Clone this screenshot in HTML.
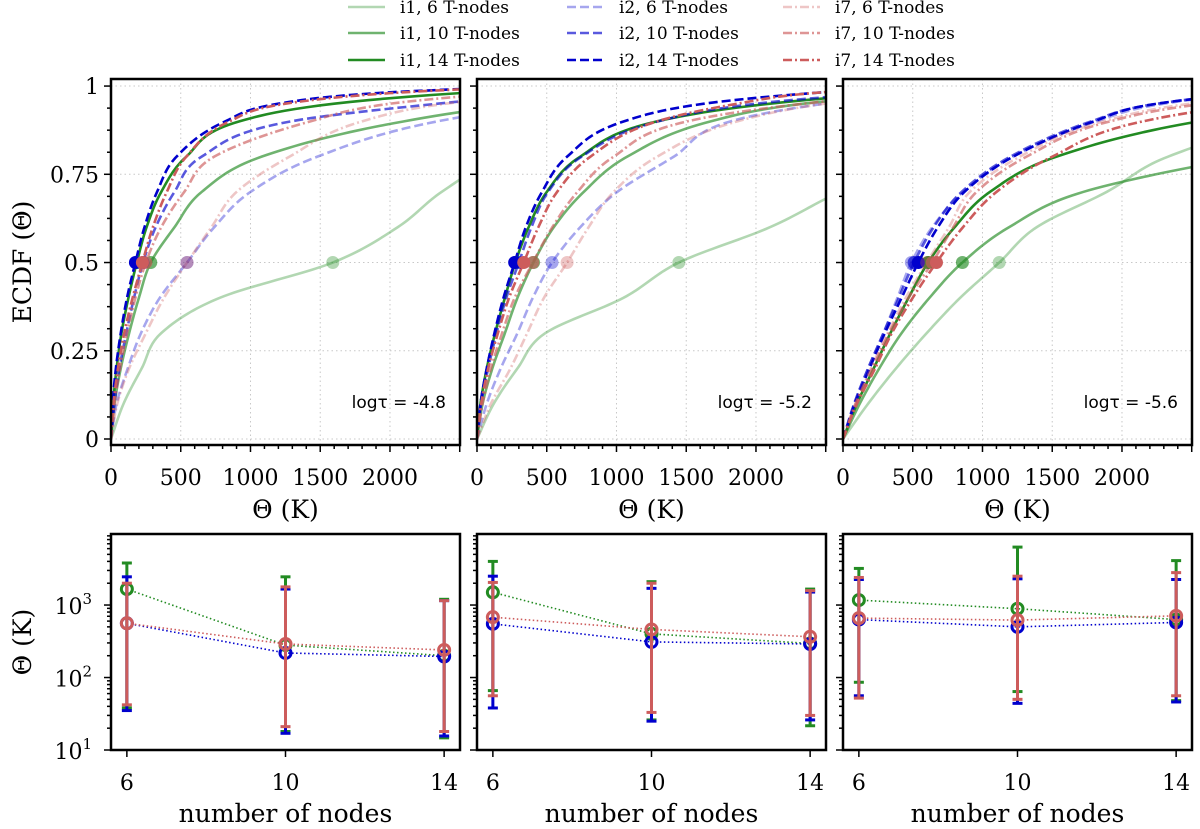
<!DOCTYPE html>
<html><head><meta charset="utf-8"><title>ECDF panels</title>
<style>
html,body{margin:0;padding:0;background:#fff;}
svg{display:block;}
text{font-family:"DejaVu Serif","Liberation Serif",serif;fill:#000;}
.sans{font-family:"DejaVu Sans","Liberation Sans",sans-serif;}
</style></head>
<body>
<svg id="fig" width="1200" height="829" viewBox="0 0 1200 829" xmlns="http://www.w3.org/2000/svg">
<g id="legend"></g>
<g id="plots"></g>
</svg>
<script>
// ---------- data ----------
const cdfLevels = [0,0.1,0.2,0.3,0.4,0.5,0.6,0.7,0.8,0.9,0.95,0.98,1];
const seriesNames = ["i1, 6 T-nodes","i1, 10 T-nodes","i1, 14 T-nodes","i2, 6 T-nodes","i2, 10 T-nodes","i2, 14 T-nodes","i7, 6 T-nodes","i7, 10 T-nodes","i7, 14 T-nodes"];
const panelLabels = ["logτ = -4.8","logτ = -5.2","logτ = -5.6"];
// theta quantiles (K) at cdfLevels, per panel
const p1_i1_6  = [0,90,220,360,780,1590,2055,2370,2800,3500,4200,5000,6000];
const p1_i1_10 = [0,25,70,130,200,285,455,650,1080,2100,3000,4000,5000];
const p1_i1_14 = [0,15,40,75,125,185,255,360,540,920,1600,2500,3500];
const p1_i2_6  = [0,40,120,215,350,545,740,1000,1480,2340,3200,4000,5000];
const p1_i2_10 = [0,25,60,110,165,230,320,455,650,1290,2340,3200,4000];
const p1_i2_14 = [0,12,35,70,115,175,240,330,470,820,1200,1900,3000];
const p1_i7_6  = [0,45,130,250,380,545,720,900,1280,1800,2400,3200,4000];
const p1_i7_10 = [0,25,65,115,175,250,360,525,740,1430,2000,2800,3500];
const p1_i7_14 = [0,18,50,95,155,225,300,400,540,850,1250,2000,3000];

const p2_i1_6  = [0,120,290,490,1050,1447,2100,2600,3200,4000,5000,6000,7000];
const p2_i1_10 = [0,40,110,200,290,405,550,765,1077,1675,2340,3200,4000];
const p2_i1_14 = [0,25,70,130,200,275,370,500,740,1290,2100,3000,4000];
const p2_i2_6  = [0,70,170,290,400,538,740,1005,1411,1818,2490,3200,4000];
const p2_i2_10 = [0,30,80,140,210,300,390,510,750,1300,2000,2900,3800];
const p2_i2_14 = [0,25,70,125,190,270,350,466,646,1053,1627,2400,3200];
const p2_i7_6  = [0,100,240,360,480,646,800,980,1292,1866,2490,3200,4000];
const p2_i7_10 = [0,40,100,180,270,400,540,720,980,1507,2340,3200,4000];
const p2_i7_14 = [0,30,80,150,230,335,440,574,813,1290,1866,2400,3200];

const p3_i1_6  = [0,180,380,600,840,1120,1388,1890,2330,3200,4000,5000,6000];
const p3_i1_10 = [0,120,260,420,620,856,1190,1722,2900,4500,5500,6500,7500];
const p3_i1_14 = [0,100,220,340,470,610,800,1053,1531,2550,3500,4500,5500];
const p3_i2_6  = [0,80,180,290,390,490,640,861,1220,1818,2300,3000,4000];
const p3_i2_10 = [0,80,180,290,400,510,650,850,1200,1780,2250,3000,4000];
const p3_i2_14 = [0,85,190,300,420,540,680,870,1220,1800,2250,3000,4000];
const p3_i7_6  = [0,90,200,320,450,600,760,909,1268,1866,2490,3300,4200];
const p3_i7_10 = [0,90,210,330,470,640,790,957,1316,1914,2600,3500,4500];
const p3_i7_14 = [0,100,230,350,500,670,860,1100,1500,2150,3000,4000,5000];

const topPanels = [
  [p1_i1_6,p1_i1_10,p1_i1_14,p1_i2_6,p1_i2_10,p1_i2_14,p1_i7_6,p1_i7_10,p1_i7_14],
  [p2_i1_6,p2_i1_10,p2_i1_14,p2_i2_6,p2_i2_10,p2_i2_14,p2_i7_6,p2_i7_10,p2_i7_14],
  [p3_i1_6,p3_i1_10,p3_i1_14,p3_i2_6,p3_i2_10,p3_i2_14,p3_i7_6,p3_i7_10,p3_i7_14]
];

const nodeCounts = [6,10,14];
// bottom panels: median, lower, upper per model (i1, i2, i7)
const b1_i1_med=[1660,280,200], b1_i1_lo=[38,18,14.7], b1_i1_hi=[3800,2450,1200];
const b1_i2_med=[560,218,195],  b1_i2_lo=[35,17,15.6],  b1_i2_hi=[2450,1660,1150];
const b1_i7_med=[560,290,240],  b1_i7_lo=[42,21,18],    b1_i7_hi=[2000,1780,1150];
const b2_i1_med=[1500,400,295], b2_i1_lo=[66,26,21.6],  b2_i1_hi=[4000,2100,1660];
const b2_i2_med=[550,310,290],  b2_i2_lo=[38,25,26],    b2_i2_hi=[2500,1700,1510];
const b2_i7_med=[680,460,365],  b2_i7_lo=[56,33,30],    b2_i7_hi=[2050,2000,1580];
const b3_i1_med=[1170,890,630], b3_i1_lo=[86,64,48],    b3_i1_hi=[3200,6300,4100];
const b3_i2_med=[630,500,575],  b3_i2_lo=[56,44,46],    b3_i2_hi=[2250,2300,2250];
const b3_i7_med=[660,620,710],  b3_i7_lo=[52,50,56],    b3_i7_hi=[2400,2500,2800];
const bottomPanels = [
  [[b1_i1_med,b1_i1_lo,b1_i1_hi],[b1_i2_med,b1_i2_lo,b1_i2_hi],[b1_i7_med,b1_i7_lo,b1_i7_hi]],
  [[b2_i1_med,b2_i1_lo,b2_i1_hi],[b2_i2_med,b2_i2_lo,b2_i2_hi],[b2_i7_med,b2_i7_lo,b2_i7_hi]],
  [[b3_i1_med,b3_i1_lo,b3_i1_hi],[b3_i2_med,b3_i2_lo,b3_i2_hi],[b3_i7_med,b3_i7_lo,b3_i7_hi]]
];
const xTickLabels = ["0","500","1000","1500","2000"];
const xTickValues = [0,500,1000,1500,2000];
const yTickLabels = ["0","0.25","0.5","0.75","1"];
const yTickValues = [0,0.25,0.5,0.75,1];

// ---------- styles ----------
const colors = ["#228b22","#0000cd","#cd5c5c"];
const alphas = [0.35,0.65,1];
const dashes = ["", "9,4", "9,3,2,3"];
const NS = "http://www.w3.org/2000/svg";
function mk(tag, attrs, parent){ const e=document.createElementNS(NS,tag); for(const k in attrs) e.setAttribute(k,attrs[k]); if(parent) parent.appendChild(e); return e; }

const panelLefts=[111,477,843], PW=349;
const TT=79, TB=445, BT=534, BB=750;
const TICKFS=22, LABFS=25;
const topX=(L)=>(k)=>L+(k-0)/(2502-0)*PW;
const topY=(c)=>TB-(c-(-0.017))/(1.02-(-0.017))*(TB-TT);
const botX=(L)=>(n)=>L+(n-5.6)/(14.4-5.6)*PW;
const botY=(v)=>BB-(Math.log10(v)-1)/(3.98-1)*(BB-BT);

function monotone(xs, ys){
  const n=xs.length, d=[], m=new Array(n);
  for(let i=0;i<n-1;i++) d.push((ys[i+1]-ys[i])/(xs[i+1]-xs[i]));
  m[0]=d[0]; m[n-1]=d[n-2];
  for(let i=1;i<n-1;i++){ m[i]=(d[i-1]*d[i]<=0)?0:(d[i-1]+d[i])/2; }
  for(let i=0;i<n-1;i++){ if(d[i]===0){m[i]=0;m[i+1]=0;continue;}
    const a=m[i]/d[i], b=m[i+1]/d[i], s=a*a+b*b; if(s>9){const t=3/Math.sqrt(s); m[i]=t*a*d[i]; m[i+1]=t*b*d[i];} }
  return function(x){ let i=0; while(i<n-2 && x>xs[i+1]) i++;
    const h=xs[i+1]-xs[i], t=(x-xs[i])/h, t2=t*t, t3=t2*t;
    return (2*t3-3*t2+1)*ys[i]+(t3-2*t2+t)*h*m[i]+(-2*t3+3*t2)*ys[i+1]+(t3-t2)*h*m[i+1]; };
}

const plots=document.getElementById('plots');

// ---------- top panels ----------
topPanels.forEach((panel,pi)=>{
  const L=panelLefts[pi], X=topX(L);
  const g=mk('g',{},plots);
  
  
  const cp=mk('clipPath',{id:'ct'+pi},g); mk('rect',{x:L,y:TT,width:PW,height:TB-TT},cp);
  const grid=mk('g',{stroke:'#c8c8c8','stroke-width':1,'stroke-dasharray':'1.5,3'},g);
  
  
  xTickValues.forEach(v=>mk('line',{x1:X(v),x2:X(v),y1:TT,y2:TB},grid));
  yTickValues.forEach(v=>mk('line',{x1:L,x2:L+PW,y1:topY(v),y2:topY(v)},grid));
  const cg=mk('g',{'clip-path':'url(#ct'+pi+')'},g);
  panel.forEach((q,si)=>{
    const model=Math.floor(si/3), nIdx=si%3;
    const f=monotone(cdfLevels,q);
    let d='';
    for(let c=0;c<=1.0001;c+=0.005){ const k=f(Math.min(c,1)); d+=(d?'L':'M')+X(k).toFixed(2)+','+topY(Math.min(c,1)).toFixed(2); }
    const p=mk('path',{d:d,fill:'none',stroke:colors[model],'stroke-opacity':alphas[nIdx],'stroke-width':2.6,'stroke-dasharray':dashes[model]},cg);
    
    
  });
  panel.forEach((q,si)=>{
    const model=Math.floor(si/3), nIdx=si%3;
    const dot=mk('circle',{cx:X(q[5]),cy:topY(0.5),r:6.5,fill:colors[model],'fill-opacity':alphas[nIdx]},cg);
    
    
  });
  const fr=mk('rect',{x:L,y:TT,width:PW,height:TB-TT,fill:'none',stroke:'#000','stroke-width':2.5},g);
  
  
  const tg=mk('g',{stroke:'#000','stroke-width':1.5},g);
  for(let v=0;v<=2500;v+=100){ const maj=v%500===0; mk('line',{x1:X(v),x2:X(v),y1:TB,y2:TB+(maj?7:4)},tg); }
  for(let v=0;v<=1.0001;v+=0.0625){ const maj=Math.abs((v/0.25)-Math.round(v/0.25))<1e-6; mk('line',{x1:L,x2:L-(maj?7:4),y1:topY(v),y2:topY(v)},tg); }
  xTickValues.forEach((v,i)=>{ const t=mk('text',{x:X(v),y:485,'text-anchor':'middle','font-size':TICKFS},g); t.textContent=xTickLabels[i];
      });
  if(pi===0){ yTickValues.forEach((v,i)=>{ const t=mk('text',{x:99,y:topY(v)+8,'text-anchor':'end','font-size':TICKFS},g); t.textContent=yTickLabels[i];
      }); }
  const xl=mk('text',{x:L+PW/2,y:518,'text-anchor':'middle','font-size':LABFS},g); xl.textContent='Θ (K)';
   
  const an=mk('text',{x:L+PW-14,y:408,'text-anchor':'end','font-size':17,class:'sans'},g); an.textContent=panelLabels[pi];
   
});
const yl1=mk('text',{x:0,y:0,'text-anchor':'middle','font-size':LABFS,transform:'translate(31,262) rotate(-90)'},plots); yl1.textContent='ECDF (Θ)';
 

// ---------- bottom panels ----------
bottomPanels.forEach((panel,pi)=>{
  const L=panelLefts[pi], X=botX(L);
  const g=mk('g',{},plots);
  
  
  panel.forEach((s,mi)=>{
    const [med,lo,hi]=s, col=colors[mi];
    const sg=mk('g',{},g);
    
    
    nodeCounts.forEach((n,i)=>{
      const x=X(n);
      mk('line',{x1:x,x2:x,y1:botY(lo[i]),y2:botY(hi[i]),stroke:col,'stroke-width':3},sg);
      mk('line',{x1:x-5,x2:x+5,y1:botY(lo[i]),y2:botY(lo[i]),stroke:col,'stroke-width':3},sg);
      mk('line',{x1:x-5,x2:x+5,y1:botY(hi[i]),y2:botY(hi[i]),stroke:col,'stroke-width':3},sg);
    });
    let d=''; nodeCounts.forEach((n,i)=>{ d+=(i?'L':'M')+X(n)+','+botY(med[i]); });
    mk('path',{d:d,fill:'none',stroke:col,'stroke-width':1.6,'stroke-dasharray':'1.5,2.5'},sg);
    nodeCounts.forEach((n,i)=>{ const c=mk('circle',{cx:X(n),cy:botY(med[i]),r:5.5,fill:'none',stroke:col,'stroke-width':3},sg);
        });
  });
  const fr=mk('rect',{x:L,y:BT,width:PW,height:BB-BT,fill:'none',stroke:'#000','stroke-width':2.5},g);
  
  
  const tg=mk('g',{stroke:'#000','stroke-width':1.5},g);
  nodeCounts.forEach(n=>mk('line',{x1:X(n),x2:X(n),y1:BB,y2:BB+7},tg));
  for(let e=1;e<=3;e++){ for(let m=1;m<=9;m++){ const v=m*Math.pow(10,e); if(Math.log10(v)>3.98) continue;
    mk('line',{x1:L,x2:L-(m===1?7:4),y1:botY(v),y2:botY(v)},tg); } }
  nodeCounts.forEach(n=>{ const t=mk('text',{x:X(n),y:790,'text-anchor':'middle','font-size':TICKFS},g); t.textContent=String(n);
      });
  if(pi===0){ [1,2,3].forEach(e=>{ const t=mk('text',{x:92,y:botY(Math.pow(10,e))+9,'text-anchor':'end','font-size':TICKFS},g);
      t.textContent='10'; const sup=mk('tspan',{'font-size':15,dy:-10},t); sup.textContent=String(e);
        }); }
  const xl=mk('text',{x:L+PW/2,y:822,'text-anchor':'middle','font-size':LABFS},g); xl.textContent='number of nodes';
   
});
const yl2=mk('text',{x:0,y:0,'text-anchor':'middle','font-size':LABFS,transform:'translate(31,642) rotate(-90)'},plots); yl2.textContent='Θ (K)';
 

// ---------- legend ----------
const lg=document.getElementById('legend');
const colX=[348,567,783], rowY=[7,33,60];
seriesNames.forEach((nm,si)=>{
  const model=Math.floor(si/3), nIdx=si%3, x=colX[model], y=rowY[nIdx];
  const e=mk('g',{},lg);
  
  
  mk('line',{x1:x,x2:x+37,y1:y,y2:y,stroke:colors[model],'stroke-opacity':alphas[nIdx],'stroke-width':2.6,'stroke-dasharray':dashes[model]},e);
  const t=mk('text',{x:x+52,y:y+6,'font-size':17},e); t.textContent=nm;
});
</script>
</body></html>
